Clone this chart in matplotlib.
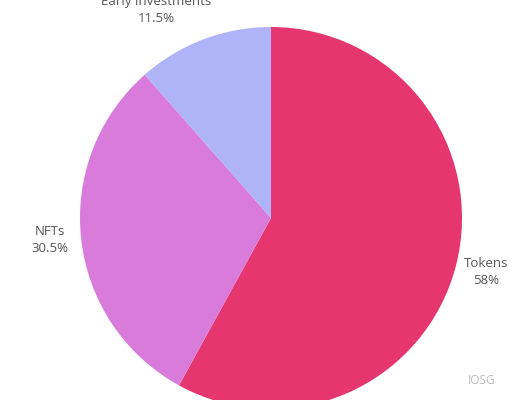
import matplotlib
matplotlib.use("Agg")
import matplotlib.pyplot as plt

categories = ["Tokens", "NFTs", "Early Investments"]
values = [58, 30.5, 11.5]
pct_labels = ["58%", "30.5%", "11.5%"]
colors = ["#E63670", "#D87BDB", "#AFB3F8"]

plt.rcParams['font.family'] = ['Open Sans', 'DejaVu Sans']

fig = plt.figure(figsize=(5.2, 4.0), dpi=100)
ax = fig.add_axes([0, 0, 1, 1])

ax.pie(values, colors=colors, startangle=90, counterclock=False,
       center=(271, 182), radius=191, frame=True,
       wedgeprops=dict(linewidth=0))
ax.set_xlim(0, 520)
ax.set_ylim(0, 400)
ax.axis('off')

label_pos = {"Tokens": (486, 128), "NFTs": (50, 160), "Early Investments": (156, 390)}
for cat, pl in zip(categories, pct_labels):
    x, y = label_pos[cat]
    ax.text(x, y, f"{cat}\n{pl}", ha='center', va='center', fontsize=9.5,
            color='#555555', linespacing=1.45)

ax.text(482, 19, "IOSG", ha='center', va='center', fontsize=8.5, color='#BBBBBB')

fig.savefig("out.png", dpi=100)
